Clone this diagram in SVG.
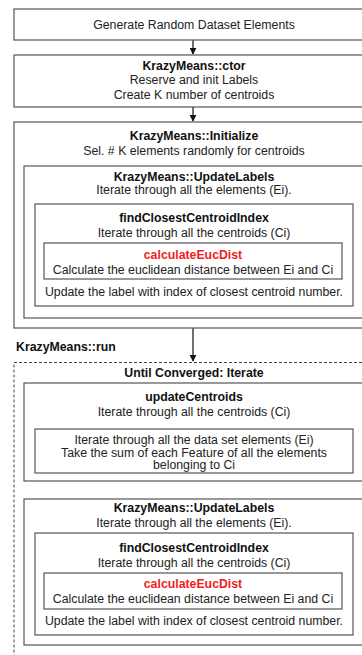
<svg xmlns="http://www.w3.org/2000/svg" width="362" height="655" viewBox="0 0 362 655">
<defs>
<style>
rect.b{fill:#fff;stroke:#555;stroke-width:1.2}
rect.d{fill:none;stroke:#444;stroke-width:1;stroke-dasharray:3,2}
text{font-family:"Liberation Sans",Arial,sans-serif;font-size:12.3px;fill:#222;text-anchor:middle}
text.h{font-weight:bold;fill:#111}
text.r{font-weight:bold;fill:#f21c1c}
line.c{stroke:#111;stroke-width:1.2}
</style>
<marker id="ah" viewBox="0 0 10 10" refX="9" refY="5" markerWidth="7" markerHeight="7" markerUnits="userSpaceOnUse" orient="auto">
<path d="M0,0 L10,5 L0,10 z" fill="#111"/>
</marker>
</defs>
<rect width="362" height="655" fill="#fff"/>
<g id="connectors">
<line class="c" x1="193" y1="40" x2="193" y2="54" marker-end="url(#ah)"/>
<line class="c" x1="193" y1="107" x2="193" y2="121" marker-end="url(#ah)"/>
<line class="c" x1="193" y1="328" x2="193" y2="361" marker-end="url(#ah)"/>
</g>
<g id="generate">
<rect class="b" x="14" y="9" width="360" height="31"/>
<text x="194" y="28.5">Generate Random Dataset Elements</text>
</g>
<g id="ctor">
<rect class="b" x="14" y="55" width="360" height="52"/>
<text class="h" x="194" y="69.5">KrazyMeans::ctor</text>
<text x="194" y="84">Reserve and init Labels</text>
<text x="194" y="98.5">Create K number of centroids</text>
</g>
<g id="initialize">
<rect class="b" x="14" y="122" width="360" height="206"/>
<text class="h" x="194" y="139.5">KrazyMeans::Initialize</text>
<text x="194" y="155">Sel. # K elements randomly for centroids</text>
</g>
<g id="updatelabels1">
<rect class="b" x="24" y="166" width="340" height="152"/>
<text class="h" x="194" y="180.5">KrazyMeans::UpdateLabels</text>
<text x="194" y="194">Iterate through all the elements (Ei).</text>
</g>
<g id="findclosest1">
<rect class="b" x="35" y="204" width="318" height="102"/>
<text class="h" x="194" y="222">findClosestCentroidIndex</text>
<text x="194" y="236.5">Iterate through all the centroids (Ci)</text>
<text x="194" y="295.5">Update the label with index of closest centroid number.</text>
</g>
<g id="calc1">
<rect class="b" x="44" y="243" width="298" height="36"/>
<text class="r" x="193" y="258.5">calculateEucDist</text>
<text x="193" y="273.5">Calculate the euclidean distance between Ei and Ci</text>
</g>
<g id="run">
<rect class="d" x="14" y="362.5" width="360" height="300"/>
<text class="h" x="16" y="350.5" style="text-anchor:start">KrazyMeans::run</text>
<text class="h" x="194" y="377">Until Converged: Iterate</text>
</g>
<g id="updatecentroids">
<rect class="b" x="24" y="383" width="340" height="98"/>
<text class="h" x="194" y="401">updateCentroids</text>
<text x="194" y="415.5">Iterate through all the centroids (Ci)</text>
</g>
<g id="iterateelements">
<rect class="b" x="35" y="429" width="318" height="44"/>
<text x="194" y="443.5">Iterate through all the data set elements (Ei)</text>
<text x="194" y="456.5">Take the sum of each Feature of all the elements</text>
<text x="194" y="469">belonging to Ci</text>
</g>
<g id="updatelabels2">
<rect class="b" x="24" y="499" width="340" height="146"/>
<text class="h" x="194" y="512">KrazyMeans::UpdateLabels</text>
<text x="194" y="527">Iterate through all the elements (Ei).</text>
</g>
<g id="findclosest2">
<rect class="b" x="35" y="533" width="318" height="102"/>
<text class="h" x="194" y="552">findClosestCentroidIndex</text>
<text x="194" y="567">Iterate through all the centroids (Ci)</text>
<text x="194" y="624.5">Update the label with index of closest centroid number.</text>
</g>
<g id="calc2">
<rect class="b" x="44" y="573" width="298" height="36"/>
<text class="r" x="193" y="587.5">calculateEucDist</text>
<text x="193" y="603">Calculate the euclidean distance between Ei and Ci</text>
</g>
</svg>
